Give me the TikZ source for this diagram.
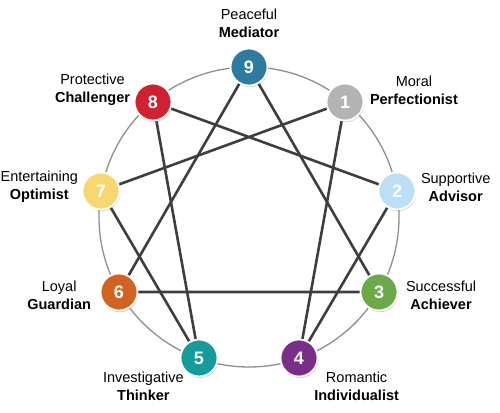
\documentclass[tikz,border=0pt]{standalone}
\usepackage{fontspec}
\setmainfont{Liberation Sans}
\usetikzlibrary{positioning, shadows, backgrounds}
\definecolor{cnine}{HTML}{2D7BA1}
\definecolor{cone}{HTML}{B3B3B3}
\definecolor{ctwo}{HTML}{BADFF7}
\definecolor{cthree}{HTML}{6BAA46}
\definecolor{cfour}{HTML}{7A2E8A}
\definecolor{cfive}{HTML}{149C9C}
\definecolor{csix}{HTML}{D2621F}
\definecolor{cseven}{HTML}{F8D770}
\definecolor{ceight}{HTML}{D1202F}
\definecolor{cline}{HTML}{3E3E3E}
\definecolor{cring}{HTML}{8E8E8E}
\tikzset{
  every picture/.style={line width=1.2pt},
  point/.style={circle, draw=white, fill=#1, line width=1.8pt, minimum size=37pt, inner sep=0pt,
                text=white, font=\fontsize{18}{18}\selectfont\bfseries,
                drop shadow={opacity=0.35, shadow xshift=0.8pt, shadow yshift=-1.6pt}},
  link/.style={draw=cline, line width=2.6pt},
  ring/.style={draw=cring, line width=1.3pt},
  tag/.style={align=center, font=\fontsize{14.5}{18}\selectfont, inner sep=0pt},
}

\begin{document}
\begin{tikzpicture}[x=1pt, y=1pt]
  \useasboundingbox (0,0) rectangle (500,412);
  \coordinate (mid) at (249,195);
  % the nine points
  \node[point=cnine]  (n9) at (249,345) {9};
  \node[point=cone]   (n1) at (345,310) {1};
  \node[point=ctwo]   (n2) at (397,221) {2};
  \node[point=cthree] (n3) at (379,120) {3};
  \node[point=cfour]  (n4) at (299,54)  {4};
  \node[point=cfive]  (n5) at (199,54)  {5};
  \node[point=csix]   (n6) at (119,120) {6};
  \node[point=cseven] (n7) at (101,221) {7};
  \node[point=ceight] (n8) at (153,310) {8};
  % names
  \node[tag, above=9pt of n9] (t9) {Peaceful\\\textbf{Mediator}};
  \node[tag, right=5pt of n1, yshift=12pt] (t1) {Moral\\\textbf{Perfectionist}};
  \node[tag, right=4pt of n2, yshift=4pt] (t2) {Supportive\\\textbf{Advisor}};
  \node[tag, right=7pt of n3, yshift=-3pt] (t3) {Successful\\\textbf{Achiever}};
  \node[tag, below right=0pt and 1pt of n4] (t4) {Romantic\\\textbf{Individualist}};
  \node[tag, below left=0pt and 1pt of n5] (t5) {Investigative\\\textbf{Thinker}};
  \node[tag, left=8pt of n6, yshift=-3pt] (t6) {Loyal\\\textbf{Guardian}};
  \node[tag, left=3pt of n7, yshift=4pt] (t7) {Entertaining\\\textbf{Optimist}};
  \node[tag, left=3pt of n8, yshift=12pt] (t8) {Protective\\\textbf{Challenger}};
  \begin{scope}[on background layer]
    \draw[ring] (mid) circle[radius=150];
    \draw[link] (n1.center) -- (n4.center) -- (n2.center) -- (n8.center)
                -- (n5.center) -- (n7.center) -- (n1.center);
    \draw[link] (n9.center) -- (n3.center) -- (n6.center) -- (n9.center);
  \end{scope}
\end{tikzpicture}
\end{document}
